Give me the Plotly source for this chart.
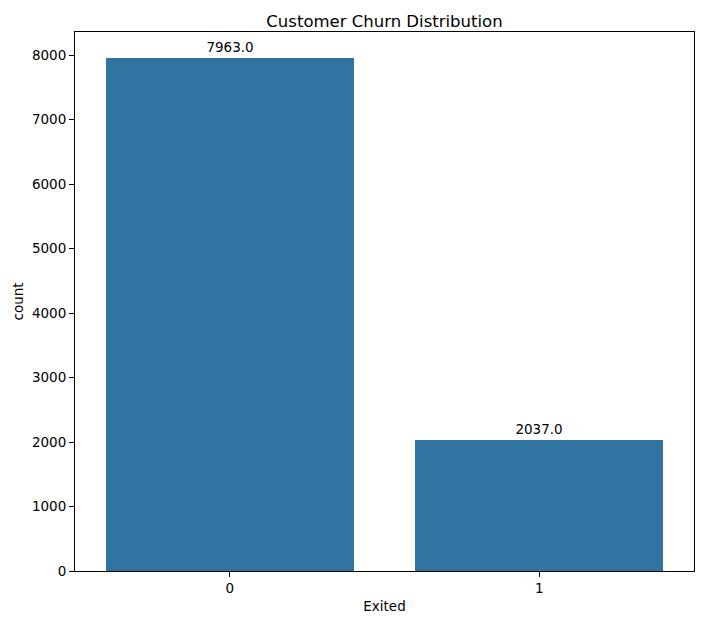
import plotly.graph_objects as go

# churn counts per class
categories = [0, 1]
counts = [7963, 2037]
ytick_vals = [0, 1000, 2000, 3000, 4000, 5000, 6000, 7000, 8000]

bar_color = "#3274a1"
font_family = "DejaVu Sans"

fig = go.Figure(
    go.Bar(
        x=categories,
        y=counts,
        width=0.8,
        marker=dict(color=bar_color, line_width=0),
        text=[f"{c:.1f}" for c in counts],
        textposition="outside",
        textfont=dict(family=font_family, size=13.5, color="black"),
        cliponaxis=False,
    )
)

# page body adds an 8px offset, so the figure is sized a bit smaller
fig.update_layout(
    width=696,
    height=616,
    margin=dict(l=66, r=9, t=24, b=53),
    paper_bgcolor="white",
    plot_bgcolor="white",
    showlegend=False,
    font=dict(family=font_family, size=13.5, color="black"),
    title=dict(
        text="Customer Churn Distribution",
        x=0.5,
        xref="paper",
        xanchor="center",
        y=1,
        yref="paper",
        yanchor="bottom",
        pad=dict(b=5),
        font=dict(size=16.5),
    ),
    xaxis=dict(
        range=[-0.5, 1.5],
        tickmode="array",
        tickvals=categories,
        ticktext=[str(c) for c in categories],
        tickfont=dict(size=13.5),
        showgrid=False,
        zeroline=False,
        showline=True,
        mirror=True,
        linecolor="black",
        linewidth=1,
        ticks="outside",
        ticklen=5,
        tickcolor="black",
        title=dict(text="Exited", standoff=6, font=dict(size=13.5)),
    ),
    yaxis=dict(
        range=[0, 8361],
        tickmode="array",
        tickvals=ytick_vals,
        tickfont=dict(size=13.5),
        showgrid=False,
        zeroline=False,
        showline=True,
        mirror=True,
        linecolor="black",
        linewidth=1,
        ticks="outside",
        ticklen=5,
        tickcolor="black",
        title=dict(text="count", standoff=5, font=dict(size=13.5)),
    ),
    bargap=0,
)

fig.write_html("out.html")
